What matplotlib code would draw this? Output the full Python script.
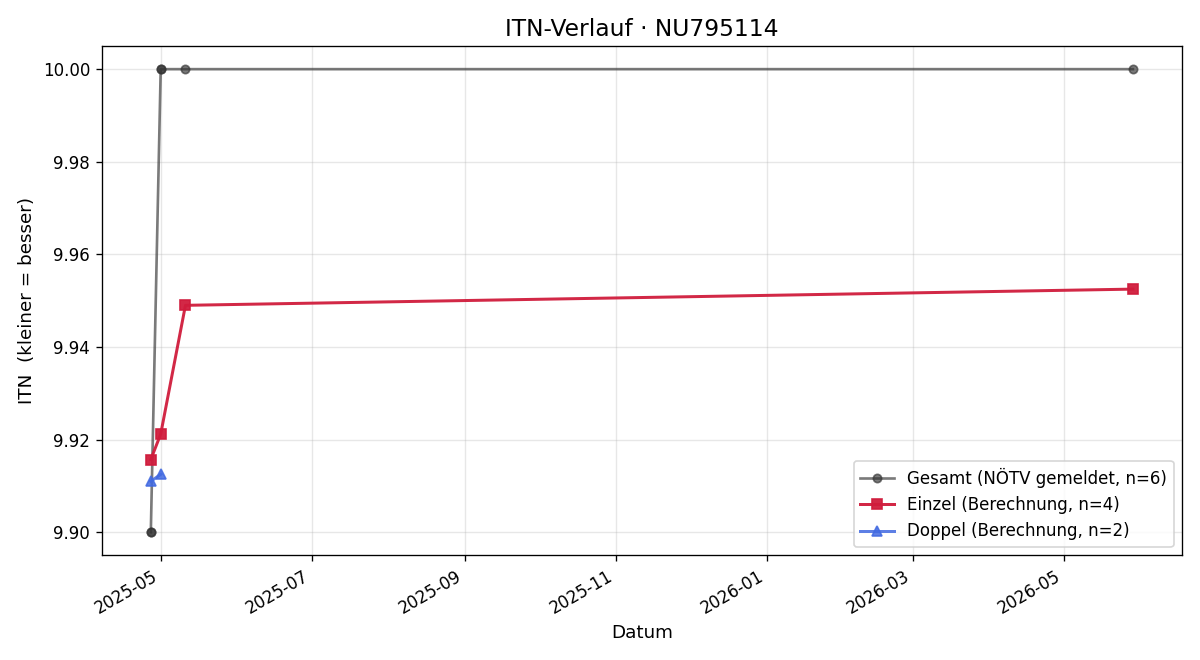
import pandas as pd
import matplotlib
matplotlib.use("Agg")
import matplotlib.pyplot as plt
import matplotlib.dates as mdates

#----Data----

gesamt_dates = ["2025-04-27", "2025-04-27", "2025-05-01", "2025-05-01", "2025-05-11", "2026-05-29"]
gesamt_itn = [9.900, 9.900, 10.000, 10.000, 10.000, 10.000]

einzel_dates = ["2025-04-27", "2025-05-01", "2025-05-11", "2026-05-29"]
einzel_itn = [9.9157, 9.9212, 9.9490, 9.9525]

doppel_dates = ["2025-04-27", "2025-05-01"]
doppel_itn = [9.9110, 9.9125]

#----Plot----

fig, ax = plt.subplots(figsize = (10, 5.5), dpi = 120)

ax.plot(pd.to_datetime(gesamt_dates), gesamt_itn, marker = "o", markersize = 5,
        color = "#333333", alpha = 0.65, linewidth = 1.6, label = "Gesamt (NÖTV gemeldet, n=6)")
ax.plot(pd.to_datetime(einzel_dates), einzel_itn, marker = "s", markersize = 6,
        color = "#d01c3c", alpha = 0.95, linewidth = 1.8, label = "Einzel (Berechnung, n=4)")
ax.plot(pd.to_datetime(doppel_dates), doppel_itn, marker = "^", markersize = 6,
        color = "royalblue", alpha = 0.85, linewidth = 1.8, label = "Doppel (Berechnung, n=2)")

ax.set_title("ITN-Verlauf · NU795114", fontsize = 14)
ax.set_xlabel("Datum", fontsize = 11)
ax.set_ylabel("ITN  (kleiner = besser)", fontsize = 11)
ax.grid(True, alpha = 0.3)
ax.xaxis.set_major_locator(mdates.MonthLocator(bymonth = [1, 3, 5, 7, 9, 11]))
ax.xaxis.set_major_formatter(mdates.DateFormatter("%Y-%m"))
ax.legend(loc = "lower right")
fig.autofmt_xdate()

plt.tight_layout()
plt.savefig("out.png", dpi = 120)
